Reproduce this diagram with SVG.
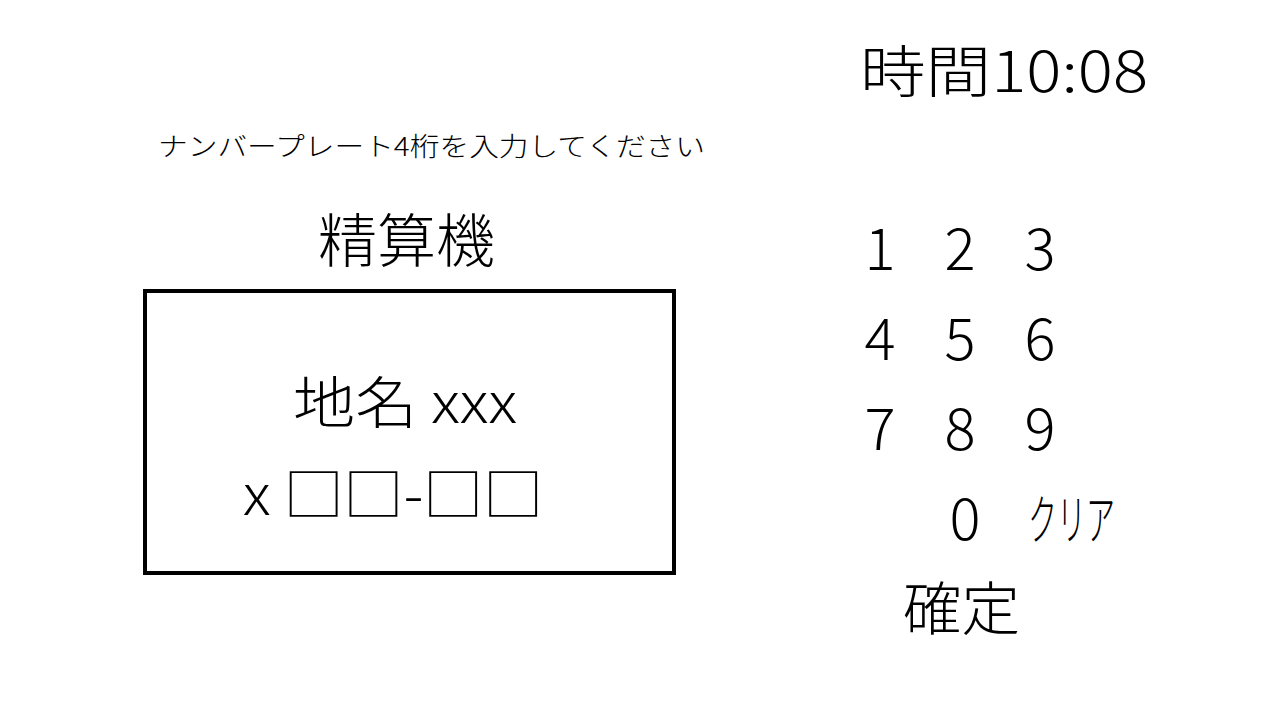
<svg xmlns="http://www.w3.org/2000/svg" width="1280" height="720" viewBox="0 0 1280 720">
<style>
text{font-family:"Noto Sans CJK JP","Liberation Sans",sans-serif;fill:#000;font-weight:300}
.k{font-size:58px;text-anchor:middle}
</style>
<rect width="1280" height="720" fill="#fff"/>
<g id="clock"><text x="860" y="92" font-size="56" textLength="288" lengthAdjust="spacingAndGlyphs">時間10:08</text></g>
<g id="prompt"><text x="158" y="156" font-size="26" textLength="547" lengthAdjust="spacingAndGlyphs">ナンバープレート4桁を入力してください</text></g>
<g id="title"><text x="318" y="262" font-size="58" textLength="177" lengthAdjust="spacingAndGlyphs">精算機</text></g>
<g id="plate">
<rect x="145" y="291" width="529" height="282" fill="none" stroke="#000" stroke-width="4"/>
<text x="293" y="423" font-size="56" textLength="224" lengthAdjust="spacingAndGlyphs">地名 xxx</text>
<text x="243" y="515" font-size="56" textLength="300" lengthAdjust="spacingAndGlyphs">x □□-□□</text>
</g>
<g id="keypad">
<text class="k" x="880" y="270">1</text><text class="k" x="960" y="270">2</text><text class="k" x="1040" y="270">3</text>
<text class="k" x="880" y="360">4</text><text class="k" x="960" y="360">5</text><text class="k" x="1040" y="360">6</text>
<text class="k" x="880" y="450">7</text><text class="k" x="960" y="450">8</text><text class="k" x="1040" y="450">9</text>
<text class="k" x="965" y="540">0</text>
<text x="1028" y="540" font-size="54" textLength="87" lengthAdjust="spacingAndGlyphs">クリア</text>
<text x="903" y="630" font-size="58" textLength="117" lengthAdjust="spacingAndGlyphs">確定</text>
</g>
</svg>
